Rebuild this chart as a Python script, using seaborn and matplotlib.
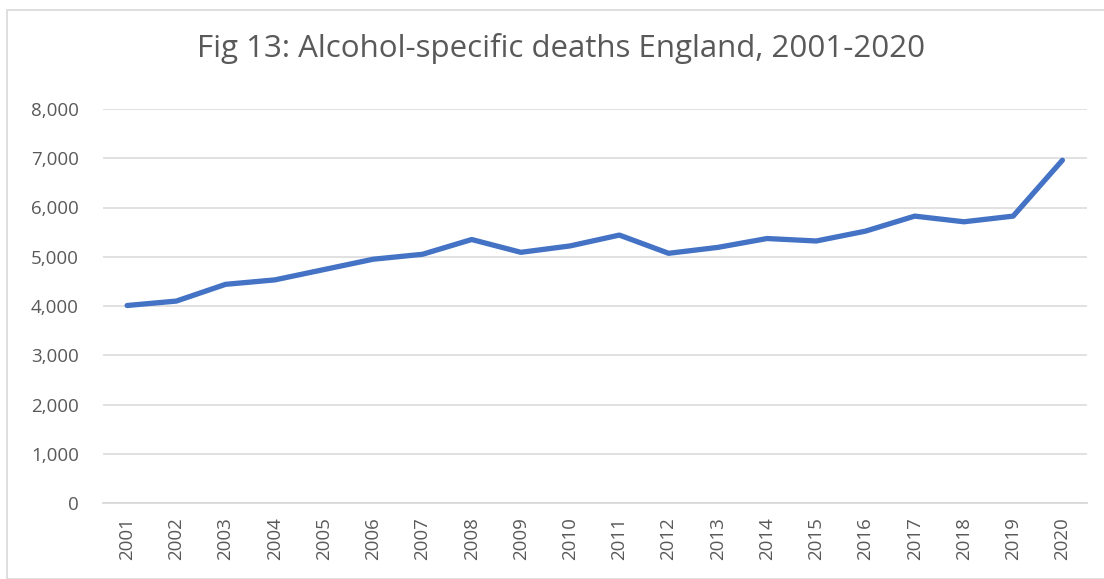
import matplotlib
matplotlib.use("Agg")
import matplotlib.pyplot as plt
from matplotlib.patches import Rectangle
from matplotlib.ticker import FuncFormatter
import seaborn as sns
import pandas as pd

# Alcohol-specific deaths, England
years = ["2001", "2002", "2003", "2004", "2005", "2006", "2007", "2008", "2009", "2010",
         "2011", "2012", "2013", "2014", "2015", "2016", "2017", "2018", "2019", "2020"]
deaths = [4010, 4100, 4440, 4530, 4740, 4950, 5050, 5350, 5090, 5220,
          5440, 5070, 5190, 5370, 5320, 5520, 5825, 5710, 5825, 6960]
y_ticks = [0, 1000, 2000, 3000, 4000, 5000, 6000, 7000, 8000]
title = "Fig 13: Alcohol-specific deaths England, 2001-2020"

sns.set_theme(style="white")
plt.rcParams["font.family"] = ["Open Sans", "DejaVu Sans"]

df = pd.DataFrame({"year": years, "deaths": deaths})

W, H = 1104, 579
fig = plt.figure(figsize=(W / 100, H / 100), dpi=100)
fig.patch.set_facecolor("white")

# chart frame
fig.add_artist(Rectangle((7 / W, 0), 1.2, 1 - 10 / H, transform=fig.transFigure,
                         fill=False, edgecolor="#D9D9D9", linewidth=1.2))

left, right, top, bottom = 102.5, 1087, 109, 503
ax = fig.add_axes([left / W, 1 - bottom / H, (right - left) / W, (bottom - top) / H])

sns.lineplot(data=df, x="year", y="deaths", ax=ax, color="#4472C4",
             linewidth=3.8, sort=False)
ax.lines[0].set_solid_capstyle("round")
ax.lines[0].set_solid_joinstyle("round")

ax.set_xlim(-0.5, len(years) - 0.5)
ax.set_ylim(0, 8000)
ax.set_yticks(y_ticks)
ax.yaxis.set_major_formatter(FuncFormatter(lambda v, p: f"{int(v):,}"))
ax.grid(axis="y", color="#D9D9D9", linewidth=1.1)
ax.set_axisbelow(True)
for s in ["top", "right", "left"]:
    ax.spines[s].set_visible(False)
ax.spines["bottom"].set_color("#D9D9D9")
ax.spines["bottom"].set_linewidth(1.3)
ax.tick_params(axis="both", length=0, colors="#595959", labelsize=13.5)
ax.tick_params(axis="y", pad=17)
ax.tick_params(axis="x", pad=10)
plt.setp(ax.get_xticklabels(), rotation=90)
ax.set_xlabel("")
ax.set_ylabel("")

fig.text((178 + 945) / 2 / W, 1 - 48 / H, title, ha="center", va="center",
         fontsize=22.5, color="#595959")

fig.savefig("out.png", dpi=100, facecolor="white")
